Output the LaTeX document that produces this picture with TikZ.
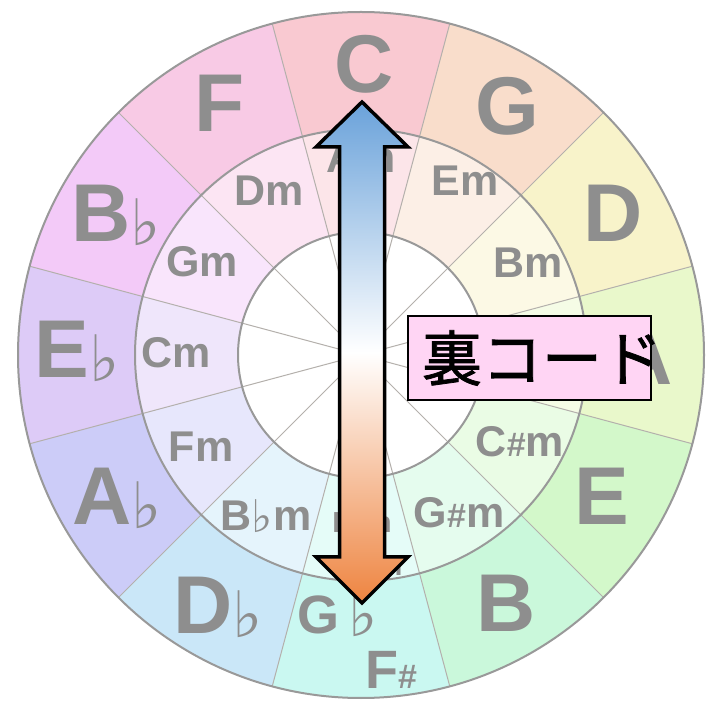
\documentclass[tikz,border=0pt]{standalone}
\usepackage{fontspec}
\setmainfont{Liberation Sans}
\newfontfamily\jpfont[FakeBold=1.3]{Noto Sans CJK JP}
\newfontfamily\symfnt{DejaVu Sans}
\newcommand{\flatsym}[2]{\raisebox{-#2pt}{\symfnt\mdseries\fontsize{#1}{#1}\selectfont ♭}}
\newcommand{\sharpsym}[1]{{\fontsize{#1}{#1}\selectfont\#}}
\definecolor{labgray}{HTML}{8E8E8E}
\definecolor{ringgray}{HTML}{999999}
\definecolor{radgray}{HTML}{B4B0AC}
\definecolor{cC}{HTML}{F9C9D1}
\definecolor{cG}{HTML}{F9DDCB}
\definecolor{cD}{HTML}{F8F3CA}
\definecolor{cA}{HTML}{E9F8CB}
\definecolor{cE}{HTML}{D3F8CA}
\definecolor{cB}{HTML}{CAF8DB}
\definecolor{cGb}{HTML}{CAF8F1}
\definecolor{cDb}{HTML}{CAE7F8}
\definecolor{cAb}{HTML}{CCCCF8}
\definecolor{cEb}{HTML}{DDCBF7}
\definecolor{cBb}{HTML}{F3CAF8}
\definecolor{cF}{HTML}{F8CAE5}
\definecolor{arrblue}{HTML}{6AA2DA}
\definecolor{arrorange}{HTML}{EE8440}
\definecolor{boxpink}{HTML}{FFD5F4}
\tikzset{
  biglab/.style={text=labgray, font=\bfseries\fontsize{82}{82}\selectfont, inner sep=0pt, text height=59pt, text depth=0pt},
  gblab/.style={text=labgray, font=\bfseries\fontsize{54}{54}\selectfont, inner sep=0pt, text height=39pt, text depth=0pt},
  midlab/.style={text=labgray, font=\bfseries\fontsize{43}{43}\selectfont, inner sep=0pt, text height=31pt, text depth=0pt},
  smalllab/.style={text=labgray, font=\bfseries\fontsize{29}{29}\selectfont, inner sep=0pt, text height=21pt, text depth=0pt},
  ring/.style={draw=ringgray, line width=2pt},
  radline/.style={draw=radgray, line width=1pt},
  bigarrow/.style={draw=black, line width=3.5pt, line join=miter, top color=arrblue, bottom color=arrorange, middle color=white},
  namebox/.style={draw=black, line width=1.6pt, fill=boxpink, inner sep=0pt, minimum width=243pt, minimum height=84pt}
}
\begin{document}
\begin{tikzpicture}[x=1pt,y=1pt]
\useasboundingbox (0,0) rectangle (720,715);
\fill[white] (0,0) rectangle (720,715);
\begin{scope}[shift={(361,360)}]
  \foreach \k/\col in {0/cC,1/cG,2/cD,3/cA,4/cE,5/cB,6/cGb,7/cDb,8/cAb,9/cEb,10/cBb,11/cF} {
    \pgfmathsetmacro\s{75-30*\k}
    \pgfmathsetmacro\e{105-30*\k}
    \fill[\col] (\s:226pt) arc[start angle=\s, end angle=\e, radius=226pt] -- (\e:343pt) arc[start angle=\e, end angle=\s, radius=343pt] -- cycle;
    \fill[\col!48!white] (\s:123pt) arc[start angle=\s, end angle=\e, radius=123pt] -- (\e:226pt) arc[start angle=\e, end angle=\s, radius=226pt] -- cycle;
  }
  \coordinate (ctr) at (0,0);
  \foreach \k in {0,...,11} {
    \draw[radline] (ctr) -- (15+30*\k:343pt);
  }
  \draw[ring] (ctr) circle[radius=343pt];
  \draw[ring] (ctr) circle[radius=226pt];
  \draw[ring] (ctr) circle[radius=123pt];
\end{scope}

% outer labels
\node[biglab] (lC) at (364,652) {C};
\node[biglab] (lG) at (507,610) {G};
\node[biglab] (lD) at (613,503) {D};
\node[biglab] (lA) at (643,360) {A};
\node[biglab] (lE) at (602,220) {E};
\node[biglab] (lB) at (506,113) {B};
\node[gblab] (lGb) at (338,101) {G\,\flatsym{62}{3}};
\node[gblab] (lFs) at (391,46) {F\sharpsym{34}};
\node[biglab] (lDb) at (218,111) {D\flatsym{64}{4}};
\node[biglab] (lAb) at (117,220) {A\flatsym{64}{4}};
\node[biglab] (lEb) at (77,367) {E\flatsym{64}{4}};
\node[biglab] (lBb) at (116,503) {B\flatsym{64}{4}};
\node[biglab] (lF) at (220,613) {F};

% middle labels
\node[midlab] (mAm) at (361,558) {Am};
\node[midlab] (mEm) at (465,535) {Em};
\node[midlab] (mBm) at (528,453) {Bm};
\node[midlab] (mFsm) at (549,360) {F\sharpsym{34}m};
\node[midlab] (mCsm) at (520,274) {C\sharpsym{34}m};
\node[midlab] (mGsm) at (459,203) {G\sharpsym{34}m};
\node[smalllab] (mEbm) at (362,193) {E\flatsym{30}{1}m};
\node[smalllab] (mDsm) at (373,150) {D\sharpsym{22}m};
\node[midlab] (mBbm) at (266,200) {B\flatsym{45}{2}m};
\node[midlab] (mFm) at (201,269) {Fm};
\node[midlab] (mCm) at (176,363) {Cm};
\node[midlab] (mGm) at (202,454) {Gm};
\node[midlab] (mDm) at (269,525) {Dm};

% double arrow
\shadedraw[bigarrow] (362,613) -- (408,568) -- (384.5,568) -- (384.5,158) -- (408,158) -- (362,112) -- (316,158) -- (339.5,158) -- (339.5,568) -- (316,568) -- cycle;

% label box
\node[namebox] (box) at (529.5,357) {};
\node[inner sep=0pt, font=\jpfont\fontsize{60}{60}\selectfont] (ura) at (542,357) {裏コード};
\end{tikzpicture}
\end{document}
